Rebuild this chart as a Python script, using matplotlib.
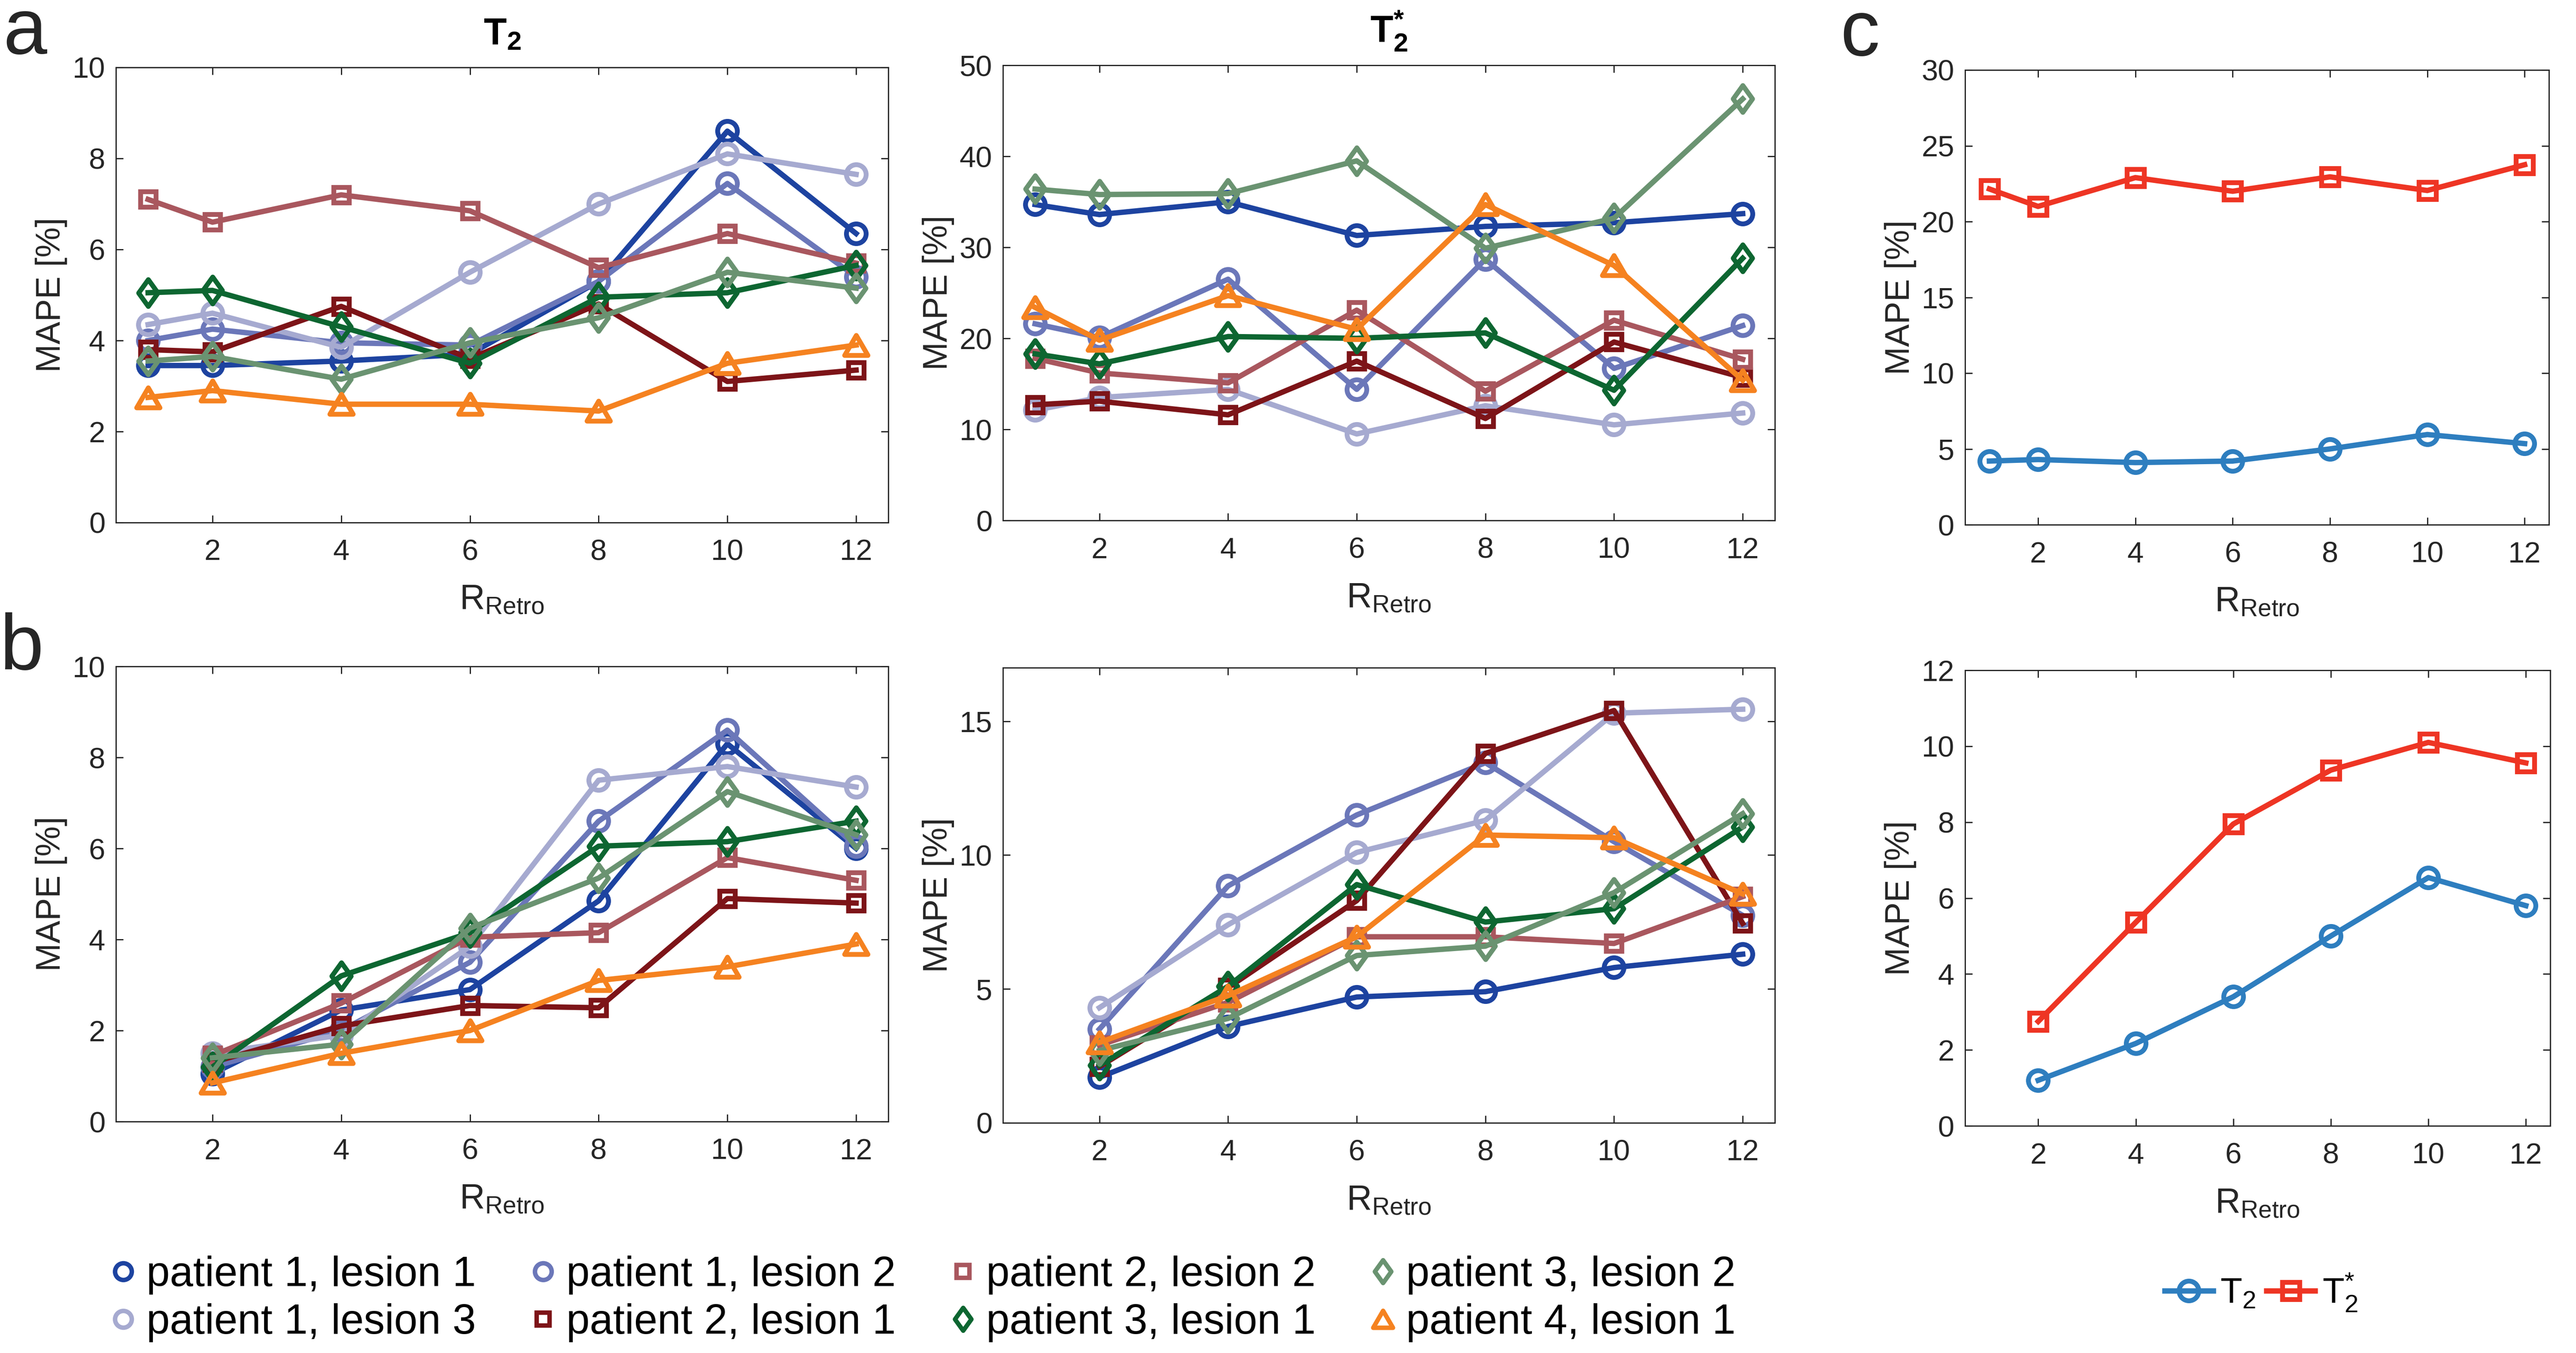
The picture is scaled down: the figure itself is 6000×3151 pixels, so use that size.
# MAPE vs retrospective undersampling factor, per lesion (a, b) and mean (c)
import numpy as np
import matplotlib.pyplot as plt
from matplotlib.lines import Line2D
from matplotlib.path import Path

plt.rcParams['font.family'] = ['Liberation Sans', 'DejaVu Sans']
plt.rcParams['mathtext.fontset'] = 'custom'
plt.rcParams['mathtext.rm'] = 'Liberation Sans'
plt.rcParams['mathtext.it'] = 'Liberation Sans:italic'
plt.rcParams['mathtext.bf'] = 'Liberation Sans:bold'

# data
x_a = [1, 2, 4, 6, 8, 10, 12]
x_b = [2, 4, 6, 8, 10, 12]
series_names = ['patient 1, lesion 1', 'patient 1, lesion 2', 'patient 1, lesion 3',
                'patient 2, lesion 1', 'patient 2, lesion 2', 'patient 3, lesion 1',
                'patient 3, lesion 2', 'patient 4, lesion 1']

a_t2 = {
    'patient 1, lesion 1': [3.45, 3.45, 3.55, 3.7, 5.3, 8.6, 6.35],
    'patient 1, lesion 2': [4.0, 4.25, 3.95, 3.9, 5.3, 7.45, 5.4],
    'patient 1, lesion 3': [4.35, 4.6, 3.85, 5.5, 7.0, 8.1, 7.65],
    'patient 2, lesion 1': [3.8, 3.75, 4.75, 3.6, 4.8, 3.1, 3.35],
    'patient 2, lesion 2': [7.1, 6.6, 7.2, 6.85, 5.6, 6.35, 5.7],
    'patient 3, lesion 1': [5.05, 5.1, 4.3, 3.5, 4.95, 5.05, 5.65],
    'patient 3, lesion 2': [3.55, 3.65, 3.15, 3.95, 4.5, 5.5, 5.15],
    'patient 4, lesion 1': [2.75, 2.9, 2.6, 2.6, 2.45, 3.5, 3.9],
}
a_t2s = {
    'patient 1, lesion 1': [34.7, 33.6, 35.0, 31.3, 32.3, 32.7, 33.7],
    'patient 1, lesion 2': [21.6, 20.1, 26.5, 14.4, 28.7, 16.7, 21.4],
    'patient 1, lesion 3': [12.1, 13.5, 14.4, 9.5, 12.6, 10.5, 11.8],
    'patient 2, lesion 1': [12.7, 13.1, 11.6, 17.5, 11.2, 19.6, 15.7],
    'patient 2, lesion 2': [17.8, 16.2, 15.1, 23.1, 14.2, 22.0, 17.7],
    'patient 3, lesion 1': [18.3, 17.2, 20.2, 20.0, 20.6, 14.3, 28.8],
    'patient 3, lesion 2': [36.4, 35.8, 35.9, 39.5, 29.9, 33.2, 46.3],
    'patient 4, lesion 1': [23.4, 19.8, 24.7, 21.0, 34.7, 28.0, 15.4],
}
b_t2 = {
    'patient 1, lesion 1': [1.05, 2.45, 2.9, 4.85, 8.3, 6.0],
    'patient 1, lesion 2': [1.2, 2.0, 3.5, 6.6, 8.6, 6.05],
    'patient 1, lesion 3': [1.5, 1.9, 3.85, 7.5, 7.8, 7.35],
    'patient 2, lesion 1': [1.3, 2.1, 2.55, 2.5, 4.9, 4.8],
    'patient 2, lesion 2': [1.45, 2.6, 4.05, 4.15, 5.8, 5.3],
    'patient 3, lesion 1': [1.2, 3.2, 4.15, 6.05, 6.15, 6.6],
    'patient 3, lesion 2': [1.4, 1.7, 4.25, 5.35, 7.25, 6.3],
    'patient 4, lesion 1': [0.85, 1.5, 2.0, 3.1, 3.4, 3.9],
}
b_t2s = {
    'patient 1, lesion 1': [1.7, 3.6, 4.7, 4.9, 5.8, 6.3],
    'patient 1, lesion 2': [3.5, 8.85, 11.5, 13.45, 10.5, 7.75],
    'patient 1, lesion 3': [4.3, 7.4, 10.1, 11.3, 15.3, 15.45],
    'patient 2, lesion 1': [2.1, 5.05, 8.3, 13.8, 15.4, 7.45],
    'patient 2, lesion 2': [2.9, 4.5, 6.95, 6.95, 6.7, 8.45],
    'patient 3, lesion 1': [2.15, 5.1, 8.9, 7.5, 8.0, 11.05],
    'patient 3, lesion 2': [2.7, 3.9, 6.25, 6.6, 8.6, 11.55],
    'patient 4, lesion 1': [3.0, 4.75, 6.95, 10.75, 10.65, 8.55],
}
c_top_t2 = [4.2, 4.3, 4.1, 4.2, 5.0, 5.95, 5.35]
c_top_t2s = [22.15, 21.0, 22.9, 22.0, 22.95, 22.05, 23.75]
c_bot_t2 = [1.2, 2.17, 3.4, 5.0, 6.54, 5.8]
c_bot_t2s = [2.75, 5.36, 7.95, 9.37, 10.1, 9.56]

# matlab-like marker shapes (wider diamond / triangle)
diamond = Path([(0, 1), (0.72, 0), (0, -1), (-0.72, 0), (0, 1)],
               [Path.MOVETO, Path.LINETO, Path.LINETO, Path.LINETO, Path.CLOSEPOLY])
triangle = Path([(0, 0.86), (1, -0.86), (-1, -0.86), (0, 0.86)],
                [Path.MOVETO, Path.LINETO, Path.LINETO, Path.CLOSEPOLY])

# styles
colors = {
    'patient 1, lesion 1': '#1d43a0', 'patient 1, lesion 2': '#6b77b9',
    'patient 1, lesion 3': '#a6aad0', 'patient 2, lesion 1': '#7d1418',
    'patient 2, lesion 2': '#a9575e', 'patient 3, lesion 1': '#0d6631',
    'patient 3, lesion 2': '#6a9371', 'patient 4, lesion 1': '#f58220',
}
markers = {
    'patient 1, lesion 1': ('o', 11), 'patient 1, lesion 2': ('o', 11),
    'patient 1, lesion 3': ('o', 11), 'patient 2, lesion 1': ('s', 8.5),
    'patient 2, lesion 2': ('s', 8.5), 'patient 3, lesion 1': (diamond, 15),
    'patient 3, lesion 2': (diamond, 15), 'patient 4, lesion 1': (triangle, 13),
}
c_blue = '#2e7ebf'
c_red = '#ee3524'
ink = '#262626'
lw = 3.0
mew = 2.7
W, H = 6000, 3151


def rect(l, r, t, b):
    return [l / W, 1 - b / H, (r - l) / W, (b - t) / H]


def style_axis(ax, ylim, yticks, ylab_x=-0.063):
    ax.set_xlim(0.5, 12.5)
    ax.set_ylim(*ylim)
    ax.set_xticks([2, 4, 6, 8, 10, 12])
    ax.set_yticks(yticks)
    ax.tick_params(direction='in', length=4, width=0.7, colors=ink, labelsize=16.5,
                   top=True, right=True)
    ax.tick_params(axis='x', pad=9)
    ax.tick_params(axis='y', pad=6)
    for s in ax.spines.values():
        s.set_linewidth(0.7)
        s.set_color(ink)
    ax.set_xlabel(r'R$_{\mathrm{Retro}}$', fontsize=19.5, color=ink)
    ax.xaxis.set_label_coords(0.5, -0.135)
    ax.set_ylabel('MAPE [%]', fontsize=19, color=ink)
    ax.yaxis.set_label_coords(ylab_x, 0.5)


def draw_lesions(ax, x, data):
    for name in series_names:
        m, ms = markers[name]
        ax.plot(x, data[name], color=colors[name], lw=lw, marker=m, ms=ms,
                mew=mew, mfc='none', mec=colors[name])


fig = plt.figure(figsize=(W / 300, H / 300), dpi=300)

ax1 = fig.add_axes(rect(270, 2069, 157, 1217))
draw_lesions(ax1, x_a, a_t2)
style_axis(ax1, (0, 10), [0, 2, 4, 6, 8, 10])
ax1.set_title(r'$\mathbf{T_2}$', fontsize=21, pad=13)

ax2 = fig.add_axes(rect(2336, 4134, 152, 1212))
draw_lesions(ax2, x_a, a_t2s)
style_axis(ax2, (0, 50), [0, 10, 20, 30, 40, 50])
ax2.set_title(r'$\mathbf{T_2^{*}}$', fontsize=21, pad=13)

ax3 = fig.add_axes(rect(270, 2069, 1552, 2612))
draw_lesions(ax3, x_b, b_t2)
style_axis(ax3, (0, 10), [0, 2, 4, 6, 8, 10])

ax4 = fig.add_axes(rect(2336, 4134, 1555, 2615))
draw_lesions(ax4, x_b, b_t2s)
style_axis(ax4, (0, 17), [0, 5, 10, 15])

ax5 = fig.add_axes(rect(4577, 5937, 163, 1222))
ax5.plot(x_a, c_top_t2, color=c_blue, lw=lw, marker='o', ms=11, mew=mew, mfc='none')
ax5.plot(x_a, c_top_t2s, color=c_red, lw=lw, marker='s', ms=9.5, mew=mew, mfc='none')
style_axis(ax5, (0, 30), [0, 5, 10, 15, 20, 25, 30], ylab_x=-0.083)

ax6 = fig.add_axes(rect(4577, 5940, 1561, 2622))
ax6.plot(x_b, c_bot_t2, color=c_blue, lw=lw, marker='o', ms=11, mew=mew, mfc='none')
ax6.plot(x_b, c_bot_t2s, color=c_red, lw=lw, marker='s', ms=9.5, mew=mew, mfc='none')
style_axis(ax6, (0, 12), [0, 2, 4, 6, 8, 10, 12], ylab_x=-0.083)

# panel letters
fig.text(58 / W, 1 - 125 / H, 'a', fontsize=44, ha='center', va='baseline', color=ink)
fig.text(50 / W, 1 - 1559 / H, 'b', fontsize=44, ha='center', va='baseline', color=ink)
fig.text(4332 / W, 1 - 129 / H, 'c', fontsize=44, ha='center', va='baseline', color=ink)

# lesion legend, filled column-wise
order = ['patient 1, lesion 1', 'patient 1, lesion 3', 'patient 1, lesion 2',
         'patient 2, lesion 1', 'patient 2, lesion 2', 'patient 3, lesion 1',
         'patient 3, lesion 2', 'patient 4, lesion 1']
handles = [Line2D([], [], ls='none', marker=markers[n][0], ms=markers[n][1] * 0.85,
                  mew=2.5, mfc='none', mec=colors[n]) for n in order]
fig.legend(handles, order, ncol=4, loc='center', bbox_to_anchor=(2150 / W, 1 - 3025 / H),
           frameon=False, fontsize=23.5, handlelength=0.6, handletextpad=0.25,
           columnspacing=1.3, labelspacing=0.2)

# mean legend
h_c = [Line2D([], [], color=c_blue, lw=lw, marker='o', ms=11, mew=mew, mfc='none'),
       Line2D([], [], color=c_red, lw=lw, marker='s', ms=9.5, mew=mew, mfc='none')]
fig.legend(h_c, [r'T$_2$', r'T$_2^{*}$'], ncol=2, loc='center',
           bbox_to_anchor=(5267 / W, 1 - 3010 / H), frameon=False, fontsize=20,
           handlelength=1.35, handletextpad=0.2, columnspacing=0.3)

fig.savefig('out.png', dpi=300, facecolor='white')
plt.close()
